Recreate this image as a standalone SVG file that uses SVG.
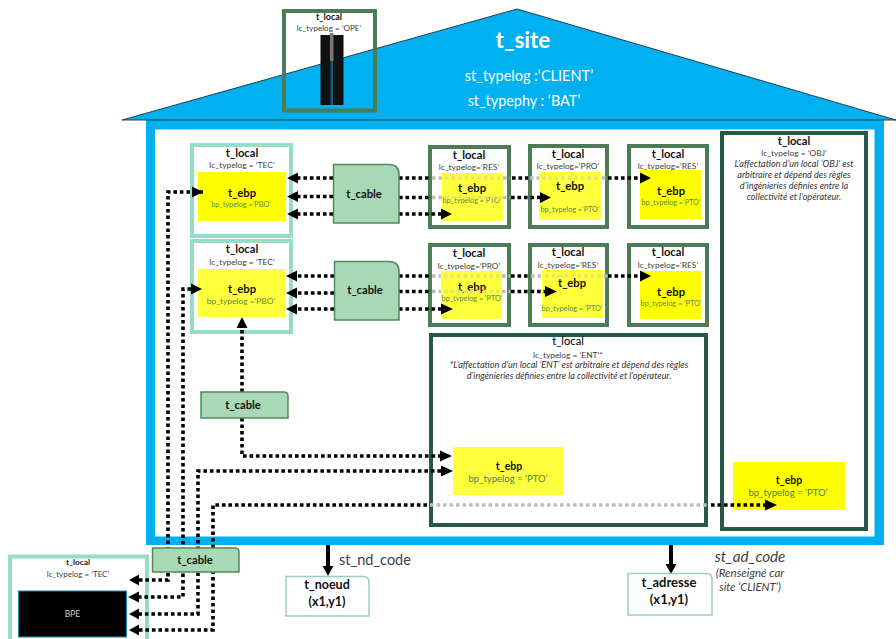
<svg xmlns="http://www.w3.org/2000/svg" width="896" height="639" viewBox="0 0 896 639">
<defs>
<style>
text{font-family:"Lato","Liberation Sans",sans-serif;text-anchor:middle;fill:#404040}
.b{font-weight:700;fill:#111}
.h{font-size:11.200px}.l{font-size:8.400px}.e{font-size:7.300px;fill:#5c8a45}.e2{font-size:8.400px;fill:#5c8a45}.el{font-size:9.500px;fill:#4c8060}
.i{font-size:9.100px;font-style:italic;fill:#333}
.r{font-size:12.500px}
.tec{fill:#fff;stroke:#96dcc8;stroke-width:4}
.res{fill:#fff;stroke:#4c7c56;stroke-width:4}
.dk{fill:#fff;stroke:#27594a;stroke-width:4}
.y{fill:#ffff00}.y2{fill:#ffff3c}
.cab{fill:#a8d8b4;stroke:#4e8a5c;stroke-width:1.5}
.ref{fill:#fff;stroke:#9accc8;stroke-width:1.5}
.d{fill:none;stroke:#000;stroke-width:3.6;stroke-dasharray:3.6 2.9}
.g{fill:none;stroke:#bfbfbf;stroke-width:3.6;stroke-dasharray:3.6 2.9}
.gy{fill:none;stroke:#e6e66c;stroke-width:3.6;stroke-dasharray:3.6 2.9}
.s{fill:none;stroke:#000;stroke-width:4}
.a{fill:#000}
</style>
</defs>
<g id="t_site">
<rect x="146" y="120" width="738" height="425" fill="#00b0f0"/>
<rect x="155" y="129.500" width="719.500" height="407" fill="#fff"/>
<polygon points="517,9 896,120 122,120" fill="#00b0f0" stroke="#20404e" stroke-width="1"/>
<text x="523" y="48" style="font-size:22.500px;font-weight:700;fill:#fff">t_site</text>
<text x="529" y="81" style="font-size:14.500px;fill:#fff">st_typelog :‘CLIENT’</text>
<text x="524" y="105.500" style="font-size:14.400px;fill:#fff">st_typephy : ‘BAT’</text>
</g>
<g id="local_ope">
<rect x="284" y="11" width="91" height="99.500" fill="none" stroke="#4c7c56" stroke-width="4"/>
<text x="329" y="20" class="b" style="font-size:9px">t_local</text>
<text x="329" y="31" style="font-size:8.100px">lc_typelog = ‘OPE’</text>
<rect x="320.500" y="35" width="23" height="70" fill="#111"/>
<rect x="330" y="33" width="3.500" height="28" fill="#777"/>
<rect x="330.500" y="61" width="2.500" height="44" fill="#0a5a80"/>
</g>
<g id="local_tec_1">
<rect x="192" y="145" width="99" height="91" class="tec"/>
<text x="242" y="157" class="b h">t_local</text>
<text x="242" y="168" class="l">lc_typelog = ‘TEC’</text>
<rect x="198" y="172" width="88" height="49" class="y"/>
<text x="242" y="197" class="b h">t_ebp</text>
<text x="241" y="207" class="e">bp_typelog =‘PBO’</text>
</g>
<g id="local_tec_2">
<rect x="192" y="241" width="99" height="91" class="tec"/>
<text x="242" y="253" class="b h">t_local</text>
<text x="242" y="265" class="l">lc_typelog = ‘TEC’</text>
<rect x="198" y="269" width="87" height="48" class="y2"/>
<text x="242" y="293" class="b h">t_ebp</text>
<text x="241" y="304" class="e2">bp_typelog =‘PBO’</text>
</g>
<g id="local_res_1">
<rect x="430" y="147" width="79" height="80" class="res"/>
<text x="469" y="159" class="b h">t_local</text>
<text x="469" y="170" class="l">lc_typelog=‘RES’</text>
<rect x="442" y="173" width="61" height="48" class="y2"/>
<text x="472" y="192" class="b h">t_ebp</text>
<text x="472" y="203" class="e">bp_typelog =‘PTO’</text>
</g>
<g id="local_pro_1">
<rect x="530" y="146" width="77" height="81" class="res"/>
<text x="568" y="158" class="b h">t_local</text>
<text x="568" y="169" class="l">lc_typelog=‘PRO’</text>
<rect x="539" y="172" width="62" height="48" class="y2"/>
<text x="570" y="190" class="b h">t_ebp</text>
<text x="570" y="212" class="e">bp_typelog =‘PTO’</text>
</g>
<g id="local_res_2">
<rect x="629" y="146" width="78" height="81" class="res"/>
<text x="668" y="158" class="b h">t_local</text>
<text x="668" y="169" class="l">lc_typelog=‘RES’</text>
<rect x="640" y="170" width="61" height="49" class="y"/>
<text x="671" y="195" class="b h">t_ebp</text>
<text x="671" y="205" class="e">bp_typelog =‘PTO’</text>
</g>
<g id="local_pro_2">
<rect x="430" y="245" width="79" height="80" class="res"/>
<text x="469" y="257" class="b h">t_local</text>
<text x="469" y="269" class="l">lc_typelog=‘PRO’</text>
<rect x="441" y="271" width="61" height="48" class="y2"/>
<text x="472" y="291" class="b h">t_ebp</text>
<text x="472" y="301" class="e">bp_typelog = ‘PTO’</text>
</g>
<g id="local_res_3">
<rect x="530" y="245" width="77" height="80" class="res"/>
<text x="568" y="256" class="b h">t_local</text>
<text x="568" y="268" class="l">lc_typelog=‘RES’</text>
<rect x="542" y="270" width="61" height="48" class="y2"/>
<text x="572" y="287" class="b h">t_ebp</text>
<text x="572" y="311" class="e">bp_typelog = ‘PTO’</text>
</g>
<g id="local_res_4">
<rect x="629" y="245" width="78" height="80" class="res"/>
<text x="668" y="256" class="b h">t_local</text>
<text x="668" y="268" class="l">lc_typelog=‘RES’</text>
<rect x="640" y="271" width="61" height="48" class="y"/>
<text x="671" y="296" class="b h">t_ebp</text>
<text x="671" y="306" class="e">bp_typelog = ‘PTO’</text>
</g>
<g id="local_ent">
<rect x="431" y="335" width="275" height="190" class="dk"/>
<text x="568" y="345" class="h" style="fill:#000">t_local</text>
<text x="568" y="358" class="l">lc_typelog = ‘ENT’*</text>
<text x="569" y="368" class="i">*L’affectation d’un local ‘ENT’ est arbitraire et dépend des règles</text>
<text x="569" y="378.500" class="i">d’ingénieries définies entre la collectivité et l’opérateur.</text>
<rect x="453" y="447" width="111" height="48" class="y2"/>
<text x="509" y="470" class="b" style="font-size:10.500px">t_ebp</text>
<text x="508" y="482" class="el">bp_typelog = ‘PTO’</text>
</g>
<g id="local_obj">
<rect x="722" y="133" width="144" height="396" class="dk"/>
<text x="794" y="145" class="b h">t_local</text>
<text x="794" y="156" class="l">lc_typelog = ‘OBJ’</text>
<text x="794" y="167" class="i">L’affectation d’un local ‘OBJ’ est</text>
<text x="794" y="178" class="i">arbitraire et dépend des règles</text>
<text x="794" y="189" class="i">d’ingénieries définies entre la</text>
<text x="794" y="200" class="i">collectivité et l’opérateur.</text>
<rect x="733" y="462" width="112" height="48" class="y"/>
<text x="789" y="484" class="b" style="font-size:10.500px">t_ebp</text>
<text x="788" y="496" class="el">bp_typelog = ‘PTO’</text>
</g>
<g id="local_tec_bpe">
<rect x="10" y="556.500" width="137" height="90" class="tec"/>
<text x="78" y="565" class="b" style="font-size:8.300px">t_local</text>
<text x="78" y="577" style="font-size:8px">lc_typelog = ‘TEC’</text>
<rect x="18.500" y="591" width="108" height="46" fill="#000" stroke="#1a8ab8" stroke-width="1"/>
<text x="72.500" y="617" style="font-size:8.500px;fill:#ccc">BPE</text>
</g>
<g id="connectors">
<path class="d" d="M333 178H298M333 196.500H298M333 214H298M334 276H297M334 293H297M334 309H297"/>
<path class="d" d="M399 178H430M399 197.500H430M399 214H441M399 276H430M399 291.500H430M399 309H441"/>
<path class="g" d="M432 178H442M432 197.500H442M432 276H441M432 291.500H441M503 178H510M503 197.500H510M502 276H510M502 291.500H510M530 178H539M531 276H542M531 291.500H542M602 178H608M604 276H608"/>
<path class="gy" d="M445 178H502M445 197.500H502M444 276H501M444 291.500H501M542 178H600M545 276H602"/>
<path class="d" d="M512 178H528M608 178H640M511 197.500H540M511 276H529M608 276H640M511 291.500H545"/>
<path class="d" d="M203 192H168V580H139"/>
<path class="d" d="M191 289H183V597H139"/>
<path class="d" d="M441 471H198V614H139"/>
<path class="d" d="M427 505H213V630H139"/>
<path class="g" d="M430 505H708"/>
<path class="d" d="M711 505H765"/>
<path class="d" d="M242 392V328"/>
<path class="d" d="M242 418V456H440"/>
<path class="s" d="M328 545V568"/>
<path class="s" d="M671 545V566"/>
<path class="a" d="M287 178l11-5.500v11zM287 196.500l11-5.500v11zM287 214l11-5.500v11zM286 276l11-5.500v11zM286 293l11-5.500v11zM286 309l11-5.500v11z"/>
<path class="a" d="M651 178l-11-5.500v11zM551 197.500l-11-5.500v11zM452 214l-11-5.500v11zM651 276l-11-5.500v11zM557 291.500l-12-5.500v11zM453 309l-12-5.500v11z"/>
<path class="a" d="M203 192l-11-5.500v11zM202 289l-11-5.500v11zM242 317l-5.500 11h11zM452 456l-12-5.500v11zM453 471l-12-5.500v11zM777 505l-12-5.500v11z"/>
<path class="a" d="M129 580l10-5.500v11zM128 597l11-5.500v11zM129 614l10-5.500v11zM129 630l10-5.500v11z"/>
<path class="a" d="M328 576l-5.500-10h11zM671 574l-5.500-10h11z"/>
</g>
<g id="cable_1"><path class="cab" d="M333.500 164.500H389q10 0 10 10V223H333.500z"/><text x="364" y="198" class="b h">t_cable</text></g>
<g id="cable_2"><path class="cab" d="M334.500 261.500H389q10 0 10 10V320H334.500z"/><text x="365" y="294" class="b h">t_cable</text></g>
<g id="cable_3"><path class="cab" d="M201 392H284q4 0 4 4V418H201z"/><text x="243" y="409" class="b h">t_cable</text></g>
<g id="cable_4"><path class="cab" d="M152.500 548H235q4 0 4 4V572H152.500z"/><text x="195" y="564" class="b h">t_cable</text></g>
<g id="t_noeud"><path class="ref" d="M286 576.500H363q6 0 6 6V616H286z"/>
<text x="327" y="589" class="b r">t_noeud</text><text x="327" y="606" class="b r">(x1,y1)</text></g>
<g id="t_adresse"><path class="ref" d="M628 573.500H706q6 0 6 6V615H628z"/>
<text x="669" y="587" class="b" style="font-size:13px">t_adresse</text><text x="669" y="604" class="b" style="font-size:13px">(x1,y1)</text></g>
<g id="labels">
<text x="375" y="565" style="font-size:14.500px">st_nd_code</text>
<text x="750" y="562" style="font-size:15.200px;font-style:italic">st_ad_code</text>
<text x="750" y="577" style="font-size:11.500px;font-style:italic">(Renseigné car</text>
<text x="750" y="591" style="font-size:11.200px;font-style:italic">site ‘CLIENT’)</text>
</g>
</svg>
